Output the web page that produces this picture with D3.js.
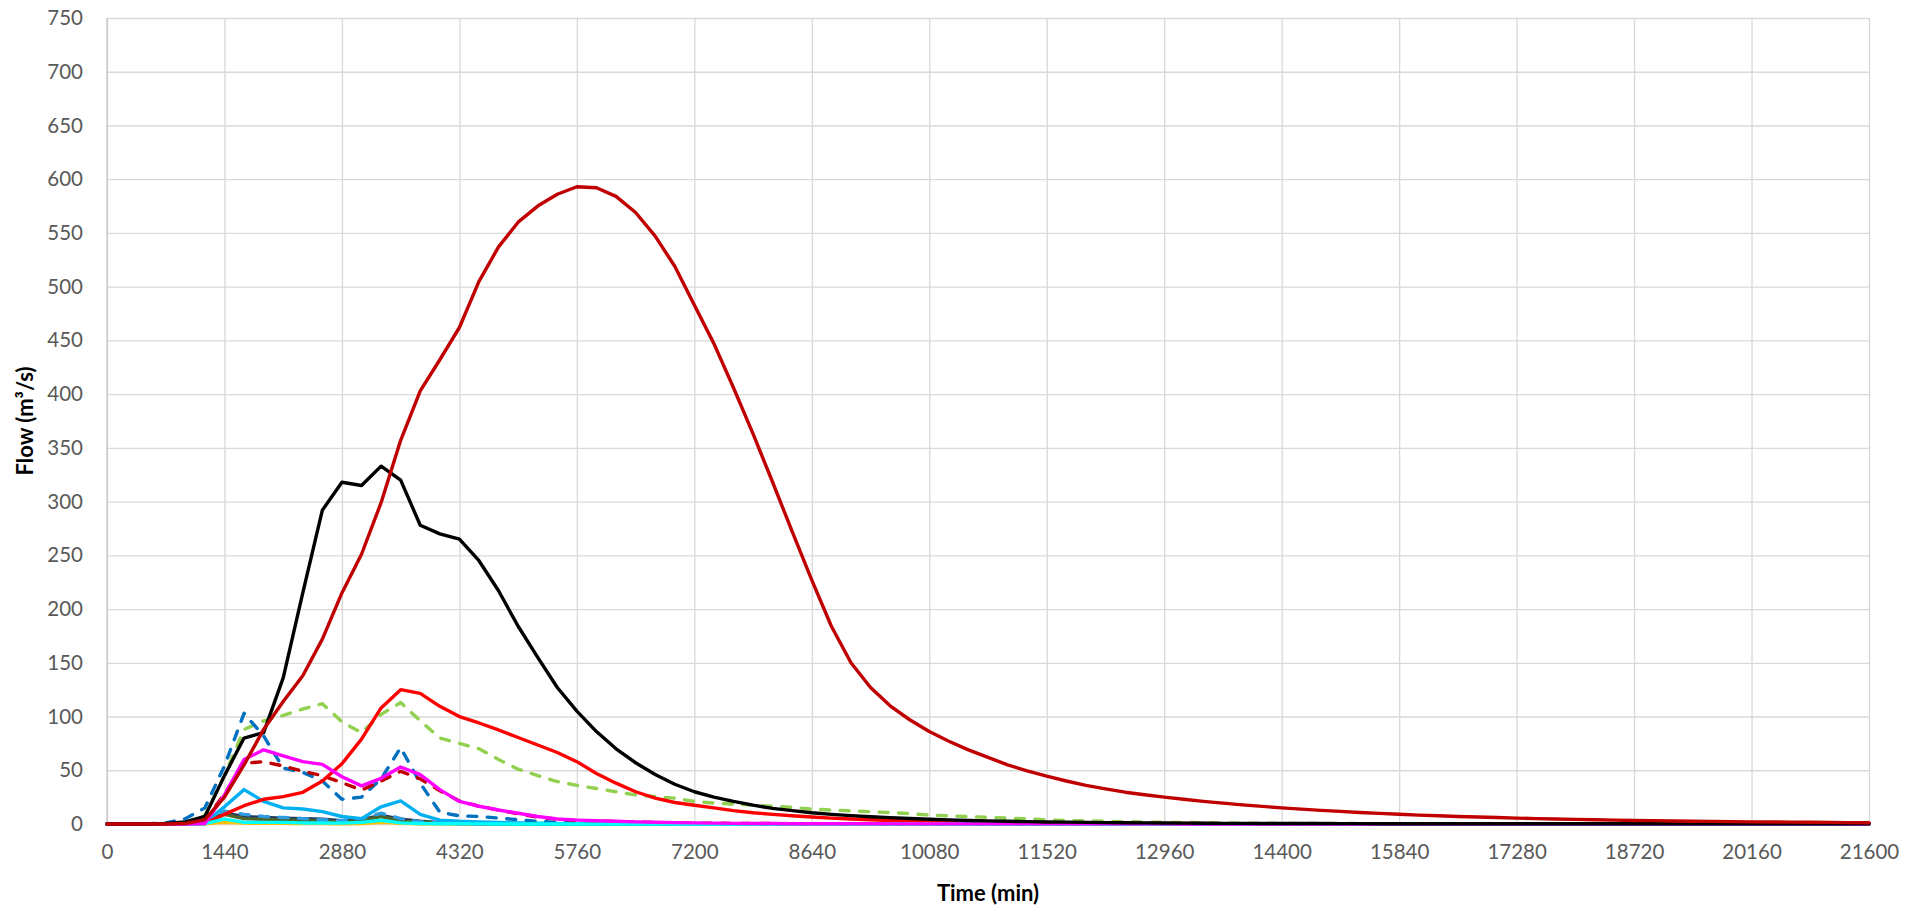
<!DOCTYPE html>
<html>
<head>
<meta charset="utf-8">
<script src="https://cdn.jsdelivr.net/npm/d3@7"></script>
<style>
  html, body { margin: 0; padding: 0; background: #fff; }
  svg { display: block; }
</style>
</head>
<body>
<svg id="chart" width="1922" height="910"></svg>
<script>
// ---------- DATA ----------
const time = [
  0,240,480,720,960,1200,1440,1680,1920,2160,
  2400,2640,2880,3120,3360,3600,3840,4080,4320,4560,
  4800,5040,5280,5520,5760,6000,6240,6480,6720,6960,
  7200,7440,7680,7920,8160,8400,8640,8880,9120,9360,
  9600,9840,10080,10320,10560,10800,11040,11280,11520,11760,
  12000,12240,12480,12720,12960,13200,13440,13680,13920,14160,
  14400,14640,14880,15120,15360,15600,15840,16080,16320,16560,
  16800,17040,17280,17520,17760,18000,18240,18480,18720,18960,
  19200,19440,19680,19920,20160,20400,20640,20880,21120,21360,
  21600
];
const xTicks = [0,1440,2880,4320,5760,7200,8640,10080,11520,12960,14400,15840,17280,18720,20160,21600];
const yTicks = [0,50,100,150,200,250,300,350,400,450,500,550,600,650,700,750];

const flowDarkRed = [
  0,0,0,0,0.5,4,25,55,88,114,
  138,172,215,251,299,357,403,432,462,505,
  537,560,575,586,593,592,584,569,547,519,
  483,447,406,363,318,272,227,184,150,127,
  110,97,86,77,69,62,55,49.5,44.5,40,
  36,32.7,29.6,27.2,25.0,23.0,21.1,19.4,17.8,16.4,
  15.0,13.8,12.7,11.7,10.7,9.9,9.1,8.3,7.7,7.0,
  6.5,6.0,5.5,5.0,4.6,4.3,3.9,3.6,3.3,3.1,
  2.8,2.6,2.4,2.2,2.0,1.9,1.7,1.6,1.5,1.3,
  1.2
];
const flowBlack = [
  0,0,0,0.5,2,7,45,80,85,136,
  215,292,318,315,333,320,278,270,265,245,
  217,184,155,127,105,86,70,57,46,37,
  30,25,21,17.5,14.5,12.5,10.5,9,7.8,6.8,
  5.9,5.1,4.4,3.8,3.3,2.9,2.5,2.2,1.9,1.7,
  1.5,1.3,1.1,1.0,0.9,0.8,0.7,0.6,0.55,0.5,
  0.45,0.4,0.4,0.35,0.35,0.3,0.3,0.3,0.3,0.25,
  0.25,0.25,0.25,0.25,0.25,0.25,0.25,0.25,0.25,0.25,
  0.2,0.2,0.2,0.2,0.2,0.2,0.2,0.2,0.2,0.2,
  0.2
];
const flowRed = [
  0,0,0,0,0,0.5,9,17,23,25.5,
  29.5,40,56,79,108,125,121.5,109.5,100,94,
  87.5,80.5,73.5,66.5,58,47,38,30,24,20,
  17.5,15,12.5,10.5,9,7.7,6.5,5.5,4.6,3.9,
  3.3,2.8,2.4,2,1.7,1.5,1.3,1.1,1,0.9,
  0.8,0.7,0.6,0.5,0.5,0.4,0.4,0.3,0.3,0.3,
  0.3,0.2,0.2,0.2,0.2,0.2,0.2,0.2,0.2,0.2,
  0.2,0.2,0.2,0.2,0.2,0.2,0.2,0.2,0.2,0.2,
  0.1,0.1,0.1,0.1,0.1,0.1,0.1,0.1,0.1,0.1,
  0.1
];
const flowGreenDash = [
  0,0,0,0,1,8,45,88,96,101,
  107,112,95,85,102,113,96,80,75,70,
  60,51,45,39.5,36,33,30,27,25.5,24,
  21,19.5,18.5,17.5,16.5,15.5,13.8,13,12.2,11.4,
  10.6,9.7,8.3,7.6,6.9,6.2,5.5,4.8,3.8,3.3,
  2.9,2.5,2.2,1.9,1.6,1.4,1.2,1.0,0.8,0.7,
  0.6,0.5,0.5,0.4,0.4,0.3,0.3,0.3,0.2,0.2,
  0.2,0.2,0.2,0.2,0.1,0.1,0.1,0.1,0.1,0.1,
  0.1,0.1,0.1,0.1,0.1,0.1,0.1,0.1,0.1,0.1,
  0.1
];
const flowBlueDash = [
  0,0,0,1,5,15,54,103,82,52,
  48,40,23,25,42,71,38,11,7.5,7,
  5.5,4,2.5,1.5,1,0.6,0.4,0.3,0.2,0.2,
  0.1,0.1,0.1,0.1,0.1,0.1,0.1,0.1,0.1,0.1,
  0,0,0,0,0,0,0,0,0,0,
  0,0,0,0,0,0,0,0,0,0,
  0,0,0,0,0,0,0,0,0,0,
  0,0,0,0,0,0,0,0,0,0,
  0,0,0,0,0,0,0,0,0,0,
  0
];
const flowDarkRedDash = [
  0,0,0,0,0,3,28,56.5,58,54,
  49,45,38.5,31.5,40,49,42,31,21.5,16.5,
  13,9.5,6.5,4.5,3.4,2.7,2.2,1.8,1.4,1.1,
  0.9,0.7,0.6,0.5,0.4,0.3,0.3,0.2,0.2,0.2,
  0.1,0.1,0.1,0.1,0.1,0.1,0.1,0.1,0.1,0.1,
  0,0,0,0,0,0,0,0,0,0,
  0,0,0,0,0,0,0,0,0,0,
  0,0,0,0,0,0,0,0,0,0,
  0,0,0,0,0,0,0,0,0,0,
  0
];
const flowMagenta = [
  0,0,0,0,0,0.5,27,60,69,63.5,
  58,55.5,44,35.5,42.5,53,46,32,21,16.5,
  13,10,7,4.6,3.6,3,2.5,2,1.6,1.3,
  1,0.8,0.6,0.5,0.4,0.3,0.3,0.2,0.2,0.2,
  0.1,0.1,0.1,0.1,0.1,0.1,0.1,0.1,0.1,0.1,
  0.1,0.1,0.1,0.1,0.1,0,0,0,0,0,
  0,0,0,0,0,0,0,0,0,0,
  0,0,0,0,0,0,0,0,0,0,
  0,0,0,0,0,0,0,0,0,0,
  0
];
const flowLightBlue = [
  0,0,0,0,0,1,16,32,21,15,
  14,11.5,7,5,16,21.5,9,3.5,2.5,2,
  1.5,1,0.7,0.5,0.3,0.2,0.1,0,0,0,
  0,0,0,0,0,0,0,0,0,0,
  0,0,0,0,0,0,0,0,0,0,
  0,0,0,0,0,0,0,0,0,0,
  0,0,0,0,0,0,0,0,0,0,
  0,0,0,0,0,0,0,0,0,0,
  0,0,0,0,0,0,0,0,0,0,
  0
];
const flowNavy = [
  0,0,0,0,0.3,1.5,10,7,6,5.5,
  5,4.5,3,4,8,4.5,2.5,1.2,0.8,0.5,
  0.3,0.2,0,0,0,0,0,0,0,0,
  0,0,0,0,0,0,0,0,0,0,
  0,0,0,0,0,0,0,0,0,0,
  0,0,0,0,0,0,0,0,0,0,
  0,0,0,0,0,0,0,0,0,0,
  0,0,0,0,0,0,0,0,0,0,
  0,0,0,0,0,0,0,0,0,0,
  0
];
const flowDarkGreen = [
  0,0,0,0,0.2,1,9,5,4.3,4,
  3.4,2.8,1.9,3.4,7,2.8,1.9,1,0.5,0.3,
  0.2,0,0,0,0,0,0,0,0,0,
  0,0,0,0,0,0,0,0,0,0,
  0,0,0,0,0,0,0,0,0,0,
  0,0,0,0,0,0,0,0,0,0,
  0,0,0,0,0,0,0,0,0,0,
  0,0,0,0,0,0,0,0,0,0,
  0,0,0,0,0,0,0,0,0,0,
  0
];
const flowSkyDash = [
  0,0,0,0,0.3,1.5,12,9,7,6,
  5,4,3,5,10,5,2,1,0.5,0.3,
  0.2,0,0,0,0,0,0,0,0,0,
  0,0,0,0,0,0,0,0,0,0,
  0,0,0,0,0,0,0,0,0,0,
  0,0,0,0,0,0,0,0,0,0,
  0,0,0,0,0,0,0,0,0,0,
  0,0,0,0,0,0,0,0,0,0,
  0,0,0,0,0,0,0,0,0,0,
  0
];
const flowGrey = [
  0,0,0,0,0,0.3,2.5,1.5,1,1,
  0.8,0.7,0.5,0.8,2.5,1,0.5,0.2,0,0,
  0,0,0,0,0,0,0,0,0,0,
  0,0,0,0,0,0,0,0,0,0,
  0,0,0,0,0,0,0,0,0,0,
  0,0,0,0,0,0,0,0,0,0,
  0,0,0,0,0,0,0,0,0,0,
  0,0,0,0,0,0,0,0,0,0,
  0,0,0,0,0,0,0,0,0,0,
  0
];
const flowYellow = [
  0,0,0,0,0,0.2,1.5,0.8,0.6,0.6,
  0.5,0.4,0.3,0.5,1.5,0.6,0.3,0.1,0,0,
  0,0,0,0,0,0,0,0,0,0,
  0,0,0,0,0,0,0,0,0,0,
  0,0,0,0,0,0,0,0,0,0,
  0,0,0,0,0,0,0,0,0,0,
  0,0,0,0,0,0,0,0,0,0,
  0,0,0,0,0,0,0,0,0,0,
  0,0,0,0,0,0,0,0,0,0,
  0
];
const flowCyan = [
  0,0,0,0,0,0.3,4.5,1.5,1.5,1.5,
  1,1,0.8,1.5,3.5,1,0.5,0.3,0.2,0.1,
  0,0,0,0,0,0,0,0,0,0,
  0,0,0,0,0,0,0,0,0,0,
  0,0,0,0,0,0,0,0,0,0,
  0,0,0,0,0,0,0,0,0,0,
  0,0,0,0,0,0,0,0,0,0,
  0,0,0,0,0,0,0,0,0,0,
  0,0,0,0,0,0,0,0,0,0,
  0
];

// ---------- STYLES (draw order: first = bottom) ----------
const seriesStyle = [
  { values: flowGrey,        color: "#A6A6A6", dashed: false },
  { values: flowYellow,      color: "#FFC000", dashed: false },
  { values: flowNavy,        color: "#1F3864", dashed: false },
  { values: flowDarkGreen,   color: "#4F6228", dashed: false },
  { values: flowSkyDash,     color: "#2E9BE0", dashed: true  },
  { values: flowLightBlue,   color: "#00B0F0", dashed: false },
  { values: flowGreenDash,   color: "#92D050", dashed: true  },
  { values: flowBlueDash,    color: "#0070C0", dashed: true  },
  { values: flowDarkRedDash, color: "#C00000", dashed: true  },
  { values: flowRed,         color: "#FF0000", dashed: false },
  { values: flowCyan,        color: "#00FFFF", dashed: false },
  { values: flowMagenta,     color: "#FF00FF", dashed: false },
  { values: flowBlack,       color: "#000000", dashed: false },
  { values: flowDarkRed,     color: "#C00000", dashed: false }
];

// ---------- CHART ----------
(function () {
  const svg = d3.select("#chart");
  const pL = 107, pR = 1869, pT = 18, pB = 824;

  const x = d3.scaleLinear().domain([0, 21600]).range([pL, pR]);
  const y = d3.scaleLinear().domain([0, 750]).range([pB, pT]);

  const font = "Lato, 'Open Sans', sans-serif";

  const yAxis = svg.append("g")
    .attr("transform", `translate(${pL},0)`)
    .call(d3.axisLeft(y).tickValues(yTicks).tickSize(-(pR - pL)).tickPadding(24).tickFormat(d3.format("d")));
  yAxis.select(".domain").remove();
  yAxis.selectAll(".tick line").attr("stroke", "#d9d9d9").attr("stroke-width", 1.33);
  yAxis.selectAll(".tick text")
    .attr("fill", "#595959").style("font-family", font).style("font-size", "20.5px");

  const xAxis = svg.append("g")
    .attr("transform", `translate(0,${pB})`)
    .call(d3.axisBottom(x).tickValues(xTicks).tickSize(-(pB - pT)).tickPadding(20).tickFormat(d3.format("d")));
  xAxis.select(".domain").remove();
  xAxis.selectAll(".tick line").attr("stroke", "#d9d9d9").attr("stroke-width", 1.33);
  xAxis.selectAll(".tick text")
    .attr("fill", "#595959").style("font-family", font).style("font-size", "20.5px");

  svg.append("line")
    .attr("x1", x(0)).attr("x2", x(0)).attr("y1", y(0)).attr("y2", y(750))
    .attr("stroke", "#c8c8c8").attr("stroke-width", 1.33);
  svg.append("line")
    .attr("x1", x(0)).attr("x2", x(21600)).attr("y1", y(0)).attr("y2", y(0))
    .attr("stroke", "#d9d9d9").attr("stroke-width", 1.33);

  const line = d3.line()
    .x((d, i) => x(time[i]))
    .y(d => y(d));

  svg.append("g").selectAll("path")
    .data(seriesStyle)
    .join("path")
    .attr("d", s => line(s.values))
    .attr("fill", "none")
    .attr("stroke", s => s.color)
    .attr("stroke-width", 3.4)
    .attr("stroke-linejoin", "round")
    .attr("stroke-linecap", "round")
    .attr("stroke-dasharray", s => s.dashed ? "9,10.5" : null);

  svg.append("text")
    .attr("x", (pL + pR) / 2).attr("y", 901)
    .attr("text-anchor", "middle")
    .style("font-family", font).style("font-size", "22px").style("font-weight", "bold")
    .attr("fill", "#000")
    .text("Time (min)");

  svg.append("text")
    .attr("transform", `translate(33,${(pT + pB) / 2}) rotate(-90)`)
    .attr("text-anchor", "middle")
    .style("font-family", font).style("font-size", "22px").style("font-weight", "bold")
    .attr("fill", "#000")
    .text("Flow (m³/s)");
})();
</script>
</body>
</html>
